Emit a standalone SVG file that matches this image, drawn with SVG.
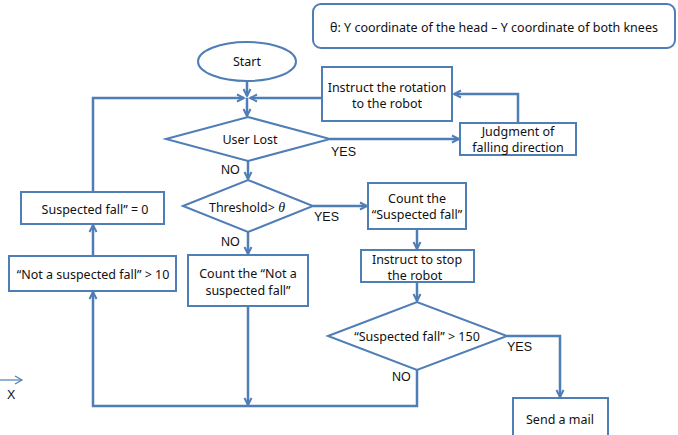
<svg xmlns="http://www.w3.org/2000/svg" width="678" height="435" viewBox="0 0 678 435">
<defs>
<marker id="ah" markerWidth="10" markerHeight="10" refX="8" refY="5" orient="auto" markerUnits="userSpaceOnUse">
<path d="M1,1.5 L8,5 L1,8.5" fill="none" stroke="#4f7db6" stroke-width="2"/>
</marker>
<style>
.s{fill:#fff;stroke:#4f7db6;stroke-width:2}
.c{fill:none;stroke:#4f7db6;stroke-width:2.5}
.t{font-family:"Noto Sans","Open Sans",sans-serif;font-size:12.5px;fill:#111;text-anchor:middle}
.l{font-family:"Liberation Sans",Arial,sans-serif;font-size:12.5px;fill:#111}
</style>
</defs>
<rect width="678" height="435" fill="#fff"/>
<g id="connectors">
<path class="c" d="M247,81 V96" marker-end="url(#ah)"/>
<path class="c" d="M247,98 V116" marker-end="url(#ah)"/>
<path class="c" d="M93,192 V98 H244" marker-end="url(#ah)"/>
<path class="c" d="M322,98 H250" marker-end="url(#ah)"/>
<path class="c" d="M330,139 H459" marker-end="url(#ah)"/>
<path class="c" d="M518,123 V94 H454" marker-end="url(#ah)"/>
<path class="c" d="M248,161 V179" marker-end="url(#ah)"/>
<path class="c" d="M313,206 H367" marker-end="url(#ah)"/>
<path class="c" d="M248,232 V254" marker-end="url(#ah)"/>
<path class="c" d="M417,229 V249" marker-end="url(#ah)"/>
<path class="c" d="M417,282 V301" marker-end="url(#ah)"/>
<path class="c" d="M507,336 H560 V397" marker-end="url(#ah)"/>
<path class="c" d="M417,370 V406 H93 V292" marker-end="url(#ah)"/>
<path class="c" d="M248,306 V405" marker-end="url(#ah)"/>
<path class="c" d="M93,256 V225" marker-end="url(#ah)"/>
<path d="M0,380 H21" fill="none" stroke="#4f7db6" stroke-width="1.2"/>
<path d="M15,376 L22,380 L15,384" fill="none" stroke="#4f7db6" stroke-width="1.2"/>
</g>
<g id="legend">
<rect class="s" x="313" y="4" width="362" height="44" rx="8"/>
<text class="t" x="494" y="32">θ: Y coordinate of the head – Y coordinate of both knees</text>
</g>
<g id="start">
<ellipse class="s" cx="247" cy="61.5" rx="49" ry="19.5"/>
<text class="t" x="247" y="66">Start</text>
</g>
<g id="userlost">
<path class="s" d="M166,139 L248,117 L330,139 L248,161 Z"/>
<text class="t" x="250" y="144">User Lost</text>
</g>
<g id="rotation">
<rect class="s" x="322" y="67" width="130" height="54"/>
<text class="t" x="387" y="92">Instruct the rotation</text>
<text class="t" x="387" y="108">to the robot</text>
</g>
<g id="judgment">
<rect class="s" x="460" y="123" width="116" height="32"/>
<text class="t" x="518" y="136">Judgment of</text>
<text class="t" x="518" y="152">falling direction</text>
</g>
<g id="threshold">
<path class="s" d="M183,206 L248,180 L313,206 L248,232 Z"/>
<text class="t" x="247" y="212">Threshold&gt; <tspan font-family="'Liberation Serif',serif" font-style="italic" font-size="14">θ</tspan></text>
</g>
<g id="countsuspected">
<rect class="s" x="368" y="183" width="98" height="46"/>
<text class="t" x="417" y="203">Count the</text>
<text class="t" x="417" y="219">“Suspected fall”</text>
</g>
<g id="stop">
<rect class="s" x="361" y="250" width="113" height="32"/>
<text class="t" x="417" y="264">Instruct to stop</text>
<text class="t" x="415" y="280">the robot</text>
</g>
<g id="over150">
<path class="s" d="M328,336 L417,302 L507,336 L417,370 Z"/>
<text class="t" x="417" y="341">“Suspected fall” &gt; 150</text>
</g>
<g id="mail">
<rect class="s" x="513" y="398" width="95" height="40"/>
<text class="t" x="560" y="424">Send a mail</text>
</g>
<g id="countnot">
<rect class="s" x="188" y="255" width="120" height="51"/>
<text class="t" x="248" y="278">Count the “Not a</text>
<text class="t" x="248" y="295">suspected fall”</text>
</g>
<g id="not10">
<rect class="s" x="9" y="256" width="167" height="35"/>
<text class="t" x="93" y="279">“Not a suspected fall” &gt; 10</text>
</g>
<g id="reset">
<rect class="s" x="21" y="192" width="143" height="32"/>
<text class="t" x="95" y="214">Suspected fall” = 0</text>
</g>
<g id="labels">
<text class="l" x="331" y="156">YES</text>
<text class="l" x="221" y="174">NO</text>
<text class="l" x="314" y="221">YES</text>
<text class="l" x="221" y="246">NO</text>
<text class="l" x="507" y="351">YES</text>
<text class="l" x="392" y="381">NO</text>
<text class="l" x="7" y="399">X</text>
</g>
</svg>
